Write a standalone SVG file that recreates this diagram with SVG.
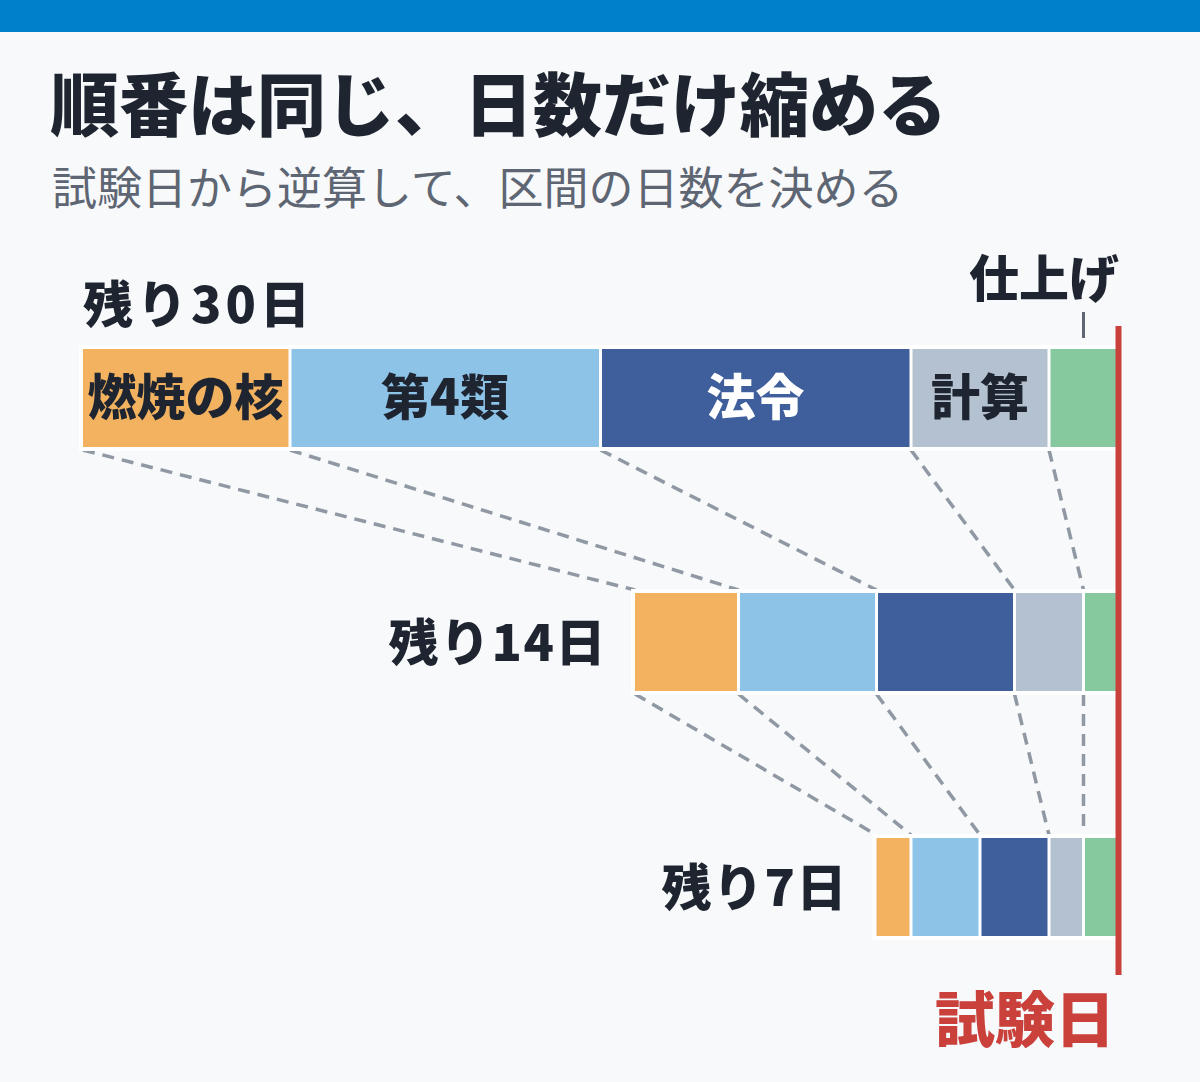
<svg xmlns="http://www.w3.org/2000/svg" width="1200" height="1082" viewBox="0 0 1200 1082">
<style>
.t{font-family:"Noto Sans CJK JP","Noto Sans",sans-serif;font-weight:900;fill:#1E2530}
.sub{font-family:"Noto Sans CJK JP","Noto Sans",sans-serif;font-weight:400;fill:#5E6673}
.lbl{font-family:"Noto Sans CJK JP","Noto Sans",sans-serif;font-weight:900;fill:#1E2530;font-size:50px}
.seg{font-family:"Noto Sans CJK JP","Noto Sans",sans-serif;font-weight:900;font-size:49px;text-anchor:middle}
.o{fill:#F2B25F}.lb{fill:#8EC3E8}.db{fill:#3E5F9C}.g{fill:#B4C1D0}.gr{fill:#86C99E}
.dash{stroke:#8F98A3;stroke-width:3.5;stroke-dasharray:12 8;fill:none}
</style>
<rect width="1200" height="1082" fill="#F7F9FB"/>
<rect width="1200" height="32" fill="#0080C9"/>
<text class="t" x="50" y="131" font-size="69">順番は同じ、日数だけ縮める</text>
<text class="sub" x="52" y="205" font-size="45">試験日から逆算して、区間の日数を決める</text>

<g id="connectors">
<line class="dash" x1="83" y1="450" x2="635" y2="590"/>
<line class="dash" x1="290" y1="450" x2="738.5" y2="590"/>
<line class="dash" x1="600.5" y1="450" x2="876.5" y2="590"/>
<line class="dash" x1="911" y1="450" x2="1014.5" y2="590"/>
<line class="dash" x1="1049" y1="450" x2="1083.5" y2="590"/>
<line class="dash" x1="635" y1="694" x2="876.5" y2="835"/>
<line class="dash" x1="738.5" y1="694" x2="911" y2="835"/>
<line class="dash" x1="876.5" y1="694" x2="980" y2="835"/>
<line class="dash" x1="1014.5" y1="694" x2="1049" y2="835"/>
<line class="dash" x1="1083.5" y1="694" x2="1083.5" y2="835"/>
</g>

<g id="row30">
<text class="lbl" x="83" y="323" letter-spacing="4">残り30日</text>
<rect x="79" y="345" width="1039" height="106" fill="#FFFFFF"/>
<rect class="o" x="83" y="349" width="205.5" height="98"/>
<rect class="lb" x="291.5" y="349" width="307.5" height="98"/>
<rect class="db" x="602" y="349" width="307.5" height="98"/>
<rect class="g" x="912.5" y="349" width="135" height="98"/>
<rect class="gr" x="1050.5" y="349" width="67.5" height="98"/>
<text class="seg" x="185.5" y="415" fill="#1E2530">燃焼の核</text>
<text class="seg" x="445" y="415" fill="#1E2530">第4類</text>
<text class="seg" x="755.5" y="415" fill="#FFFFFF">法令</text>
<text class="seg" x="980" y="415" fill="#1E2530">計算</text>
</g>

<g id="finish-label">
<text class="lbl" x="1044" y="297" text-anchor="middle" font-size="48">仕上げ</text>
<line x1="1083.5" y1="312" x2="1083.5" y2="338" stroke="#5E6673" stroke-width="3"/>
</g>

<g id="row14">
<text class="lbl" x="607" y="661" text-anchor="end" letter-spacing="1.5">残り14日</text>
<rect x="631" y="589" width="487" height="106" fill="#FFFFFF"/>
<rect class="o" x="635" y="593" width="102" height="98"/>
<rect class="lb" x="740" y="593" width="135" height="98"/>
<rect class="db" x="878" y="593" width="135" height="98"/>
<rect class="g" x="1016" y="593" width="66" height="98"/>
<rect class="gr" x="1085" y="593" width="33" height="98"/>
</g>

<g id="row7">
<text class="lbl" x="848" y="906" text-anchor="end" letter-spacing="1.5">残り7日</text>
<rect x="872.5" y="834" width="245.5" height="106" fill="#FFFFFF"/>
<rect class="o" x="876.5" y="838" width="33" height="98"/>
<rect class="lb" x="912.5" y="838" width="66" height="98"/>
<rect class="db" x="981.5" y="838" width="66" height="98"/>
<rect class="g" x="1050.5" y="838" width="31.5" height="98"/>
<rect class="gr" x="1085" y="838" width="33" height="98"/>
</g>

<g id="exam-day">
<line x1="1118.5" y1="326" x2="1118.5" y2="975" stroke="#C9413A" stroke-width="6"/>
<text class="t" x="1025" y="1042" font-size="60" text-anchor="middle" style="fill:#C9413A">試験日</text>
</g>
</svg>
